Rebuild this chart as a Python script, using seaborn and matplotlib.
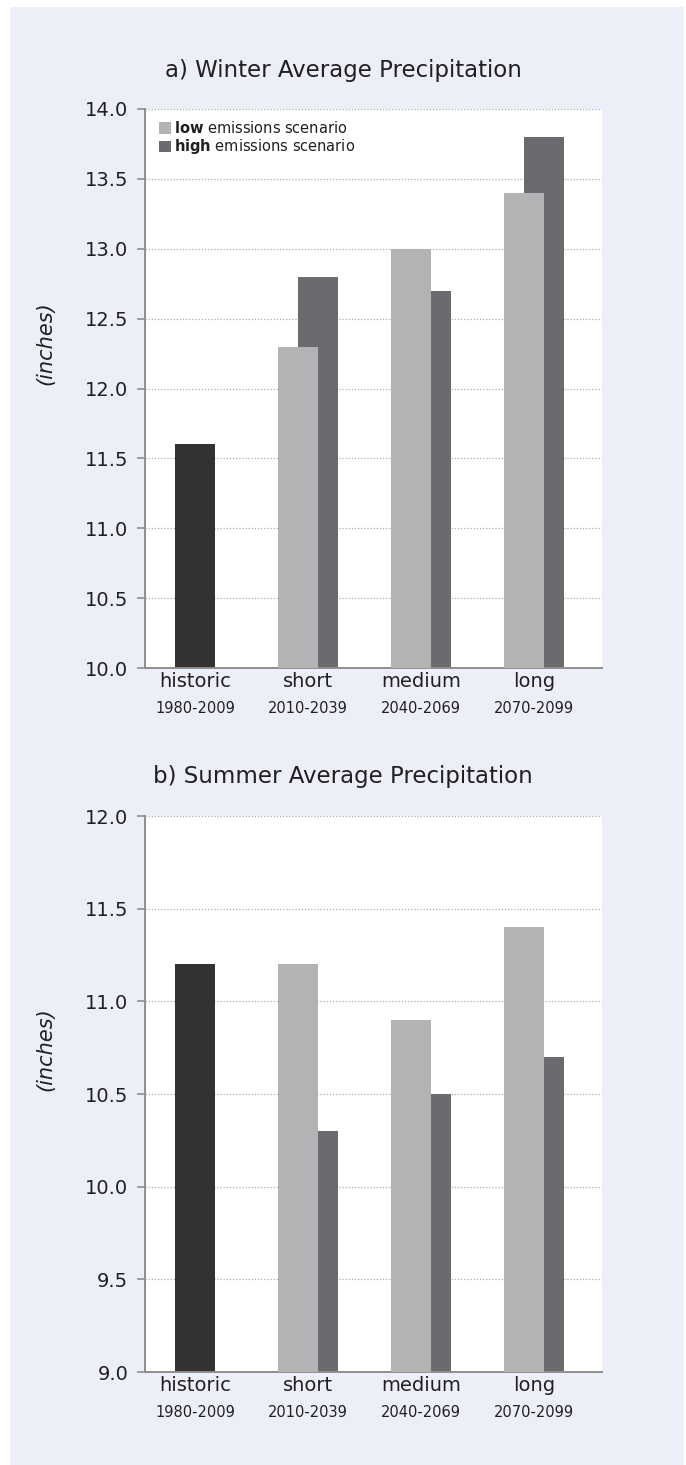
import numpy as np
import pandas as pd
import matplotlib
matplotlib.use("Agg")
import matplotlib.pyplot as plt
from matplotlib.patches import Rectangle, Patch
import seaborn as sns

# ---- data -------------------------------------------------------------
periods = ["historic", "short", "medium", "long"]
years = ["1980-2009", "2010-2039", "2040-2069", "2070-2099"]

winter_historic = [11.6]
winter_low = [12.3, 13.0, 13.4]
winter_high = [12.8, 12.7, 13.8]

summer_historic = [11.2]
summer_low = [11.2, 10.9, 11.4]
summer_high = [10.3, 10.5, 10.7]

winter_ticks = [10.0, 10.5, 11.0, 11.5, 12.0, 12.5, 13.0, 13.5, 14.0]
summer_ticks = [9.0, 9.5, 10.0, 10.5, 11.0, 11.5, 12.0]

titles = ["a) Winter Average Precipitation", "b) Summer Average Precipitation"]
legend_labels = [r"$\mathbf{low}$ emissions scenario",
                 r"$\mathbf{high}$ emissions scenario"]

# ---- style ------------------------------------------------------------
sns.set_theme(style="white")
plt.rcParams["font.family"] = ["DejaVu Sans"]
plt.rcParams["mathtext.fontset"] = "dejavusans"

C_HIST = "#343132"
C_LOW = "#b3b3b6"
C_HIGH = "#6b6b6f"
C_PANEL = "#eceff8"
C_SPINE = "#8e8e8e"
C_TEXT = "#231f20"

W, H = 686, 1465
fig = plt.figure(figsize=(W / 100, H / 100), dpi=100, facecolor="white")
fig.patches.append(Rectangle((10 / W, 0), (684 - 10) / W, (H - 7) / H,
                             transform=fig.transFigure, facecolor=C_PANEL,
                             edgecolor="none", zorder=-10))

BAR_W = 0.354
OFF = 0.0885


def frame(series, scen):
    names = periods[:1] if scen == "historic" else periods[1:]
    return pd.DataFrame({"period": names, "value": series, "scenario": scen})


def draw_panel(ax, hist, low, high, ticks, title, title_y, ylabel_y, legend):
    specs = [(hist, "historic", C_HIST, 0.0, 2),
             (high, "high", C_HIGH, OFF, 2),
             (low, "low", C_LOW, -OFF, 3)]
    for vals, scen, col, off, z in specs:
        n0 = len(ax.patches)
        sns.barplot(data=frame(vals, scen), x="period", y="value",
                    order=periods, width=BAR_W, color=col, saturation=1,
                    linewidth=0, errorbar=None, ax=ax, zorder=z)
        for p in ax.patches[n0:]:
            p.set_x(p.get_x() + off)

    ax.set_facecolor("white")
    ax.set_xlim(-0.4425, 3.60)
    ax.set_ylim(ticks[0], ticks[-1])
    ax.set_yticks(ticks)
    ax.set_yticklabels([f"{t:.1f}" for t in ticks])
    ax.yaxis.grid(True, linestyle=(0, (1, 1.5)), color="#adadad",
                  linewidth=0.9, zorder=0)
    ax.set_axisbelow(True)

    for s in ("top", "right"):
        ax.spines[s].set_visible(False)
    for s in ("left", "bottom"):
        ax.spines[s].set_color(C_SPINE)
        ax.spines[s].set_linewidth(1.4)

    ax.tick_params(axis="y", left=True, length=6, width=1.2, color=C_SPINE,
                   labelsize=14, labelcolor=C_TEXT, pad=6)
    ax.tick_params(axis="x", bottom=False, length=0, labelsize=14,
                   labelcolor=C_TEXT, pad=3)
    ax.set_xlabel("")
    ax.set_ylabel("(inches)", fontsize=15, style="italic", color=C_TEXT)
    ax.yaxis.set_label_coords(-0.197, ylabel_y)

    for i, yr in enumerate(years):
        ax.annotate(yr, xy=(i, 0), xycoords=("data", "axes fraction"),
                    xytext=(0, -32.4), textcoords="offset points",
                    ha="center", va="baseline", fontsize=10.5, color=C_TEXT)

    fig.text(0.5, title_y, title, ha="center", va="baseline",
             fontsize=16.5, color=C_TEXT)

    if legend:
        handles = [Patch(facecolor=C_LOW, edgecolor="none"),
                   Patch(facecolor=C_HIGH, edgecolor="none")]
        ax.legend(handles, legend_labels, loc="upper left",
                  bbox_to_anchor=(14 / 457, 1 - 11 / 559), frameon=False,
                  fontsize=10.5, handlelength=0.85, handleheight=0.85,
                  handletextpad=0.2, labelspacing=0.1, borderpad=0,
                  borderaxespad=0, labelcolor=C_TEXT)


ax1 = fig.add_axes([145 / W, (H - 668) / H, (602 - 145) / W, (668 - 109) / H])
ax2 = fig.add_axes([145 / W, (H - 1372) / H, (602 - 145) / W, (1372 - 816) / H])

draw_panel(ax1, winter_historic, winter_low, winter_high, winter_ticks,
           titles[0], (H - 77) / H, 0.581, True)
draw_panel(ax2, summer_historic, summer_low, summer_high, summer_ticks,
           titles[1], (H - 783) / H, 0.58, False)

fig.savefig("out.png", dpi=100, facecolor="white")
